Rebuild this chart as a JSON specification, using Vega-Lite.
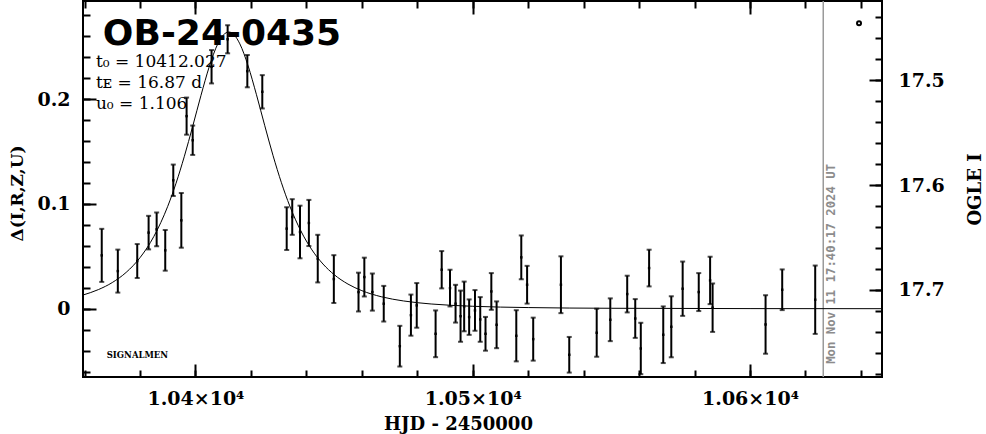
{
  "$schema": "https://vega.github.io/schema/vega-lite/v6.json",
  "width": 799,
  "height": 376,
  "autosize": "none",
  "padding": {"left": 83, "top": 1, "right": 104, "bottom": 57},
  "background": "white",
  "config": {
    "view": {"stroke": "black", "strokeWidth": 2},
    "axis": {
      "domain": false, "grid": false, "tickColor": "black", "tickWidth": 2,
      "labelFont": "DejaVu Serif", "labelFontSize": 19, "labelFontWeight": "bold", "labelColor": "black",
      "titleFont": "DejaVu Serif", "titleColor": "black", "titleFontWeight": "bold",
      "labelFlush": false, "labelOverlap": false, "labelBound": false
    }
  },
  "datasets": {
    "obs": [
      {"t": 10366.2, "d": 0.0509, "e": 0.0253},
      {"t": 10372.0, "d": 0.0359, "e": 0.0205},
      {"t": 10379.0, "d": 0.0455, "e": 0.0162},
      {"t": 10383.1, "d": 0.0726, "e": 0.0160},
      {"t": 10386.0, "d": 0.0757, "e": 0.0161},
      {"t": 10389.1, "d": 0.0557, "e": 0.0194},
      {"t": 10392.0, "d": 0.1225, "e": 0.0150},
      {"t": 10394.9, "d": 0.0843, "e": 0.0261},
      {"t": 10396.8, "d": 0.1837, "e": 0.0177},
      {"t": 10399.0, "d": 0.1607, "e": 0.0140},
      {"t": 10405.8, "d": 0.2308, "e": 0.0159},
      {"t": 10411.6, "d": 0.2570, "e": 0.0134},
      {"t": 10418.7, "d": 0.2266, "e": 0.0154},
      {"t": 10424.1, "d": 0.2069, "e": 0.0159},
      {"t": 10432.9, "d": 0.0764, "e": 0.0204},
      {"t": 10434.9, "d": 0.0875, "e": 0.0170},
      {"t": 10437.7, "d": 0.0732, "e": 0.0251},
      {"t": 10440.9, "d": 0.0818, "e": 0.0220},
      {"t": 10444.1, "d": 0.0478, "e": 0.0227},
      {"t": 10449.9, "d": 0.0283, "e": 0.0228},
      {"t": 10458.8, "d": 0.0159, "e": 0.0185},
      {"t": 10460.9, "d": 0.0302, "e": 0.0185},
      {"t": 10463.8, "d": 0.0159, "e": 0.0177},
      {"t": 10467.9, "d": 0.0048, "e": 0.0170},
      {"t": 10473.7, "d": -0.0357, "e": 0.0194},
      {"t": 10477.7, "d": -0.0061, "e": 0.0196},
      {"t": 10479.8, "d": 0.0032, "e": 0.0213},
      {"t": 10486.6, "d": -0.0239, "e": 0.0223},
      {"t": 10488.8, "d": 0.0372, "e": 0.0178},
      {"t": 10491.8, "d": 0.0197, "e": 0.0175},
      {"t": 10493.8, "d": 0.0048, "e": 0.0180},
      {"t": 10495.6, "d": -0.0071, "e": 0.0244},
      {"t": 10496.9, "d": 0.0022, "e": 0.0237},
      {"t": 10498.7, "d": -0.0080, "e": 0.0169},
      {"t": 10500.8, "d": -0.0016, "e": 0.0194},
      {"t": 10502.7, "d": -0.0102, "e": 0.0213},
      {"t": 10504.6, "d": -0.0239, "e": 0.0161},
      {"t": 10506.7, "d": 0.0165, "e": 0.0175},
      {"t": 10508.6, "d": -0.0153, "e": 0.0223},
      {"t": 10515.7, "d": -0.0258, "e": 0.0244},
      {"t": 10517.5, "d": 0.0490, "e": 0.0209},
      {"t": 10519.6, "d": 0.0229, "e": 0.0180},
      {"t": 10521.8, "d": -0.0290, "e": 0.0205},
      {"t": 10531.8, "d": 0.0229, "e": 0.0271},
      {"t": 10534.8, "d": -0.0439, "e": 0.0170},
      {"t": 10544.7, "d": -0.0229, "e": 0.0228},
      {"t": 10549.6, "d": -0.0105, "e": 0.0204},
      {"t": 10555.7, "d": 0.0140, "e": 0.0175},
      {"t": 10558.6, "d": -0.0093, "e": 0.0185},
      {"t": 10560.6, "d": -0.0379, "e": 0.0245},
      {"t": 10563.6, "d": 0.0388, "e": 0.0175},
      {"t": 10568.7, "d": -0.0248, "e": 0.0270},
      {"t": 10571.6, "d": -0.0172, "e": 0.0291},
      {"t": 10575.7, "d": 0.0191, "e": 0.0259},
      {"t": 10581.5, "d": 0.0159, "e": 0.0181},
      {"t": 10585.6, "d": 0.0270, "e": 0.0226},
      {"t": 10586.5, "d": 0.0010, "e": 0.0231},
      {"t": 10605.6, "d": -0.0150, "e": 0.0279},
      {"t": 10611.6, "d": 0.0181, "e": 0.0194},
      {"t": 10623.5, "d": 0.0086, "e": 0.0326}
    ],
    "model": [
      {"t": 10359.44, "m": 0.01309},
      {"t": 10365, "m": 0.01827},
      {"t": 10370, "m": 0.02499},
      {"t": 10375, "m": 0.03467},
      {"t": 10380, "m": 0.04871},
      {"t": 10385, "m": 0.06898},
      {"t": 10390, "m": 0.09770},
      {"t": 10393, "m": 0.11974},
      {"t": 10396, "m": 0.14543},
      {"t": 10399, "m": 0.17398},
      {"t": 10402, "m": 0.20357},
      {"t": 10405, "m": 0.23110},
      {"t": 10408, "m": 0.25234},
      {"t": 10410, "m": 0.26090},
      {"t": 10412.03, "m": 0.26392},
      {"t": 10414, "m": 0.26106},
      {"t": 10416, "m": 0.25264},
      {"t": 10419, "m": 0.23155},
      {"t": 10422, "m": 0.20410},
      {"t": 10425, "m": 0.17451},
      {"t": 10428, "m": 0.14592},
      {"t": 10431, "m": 0.12018},
      {"t": 10434, "m": 0.09806},
      {"t": 10438, "m": 0.07426},
      {"t": 10442, "m": 0.05616},
      {"t": 10446, "m": 0.04262},
      {"t": 10450, "m": 0.03256},
      {"t": 10455, "m": 0.02352},
      {"t": 10460, "m": 0.01725},
      {"t": 10467, "m": 0.01145},
      {"t": 10475, "m": 0.00743},
      {"t": 10485, "m": 0.00453},
      {"t": 10500, "m": 0.00235},
      {"t": 10520, "m": 0.00111},
      {"t": 10550, "m": 0.00044},
      {"t": 10600, "m": 0.00013},
      {"t": 10647.59, "m": 0.00006}
    ]
  },
  "layer": [
    {
      "data": {"values": [{"t": 10626.4}]},
      "mark": {"type": "rule", "color": "#9a9a9a", "strokeWidth": 1.5},
      "encoding": {
        "x": {"field": "t", "type": "quantitative", "scale": {"domain": [10359.44, 10647.59], "nice": false, "zero": false},
          "axis": {"orient": "top", "values": [10400, 10500, 10600], "labels": false, "tickSize": -13, "title": null}}
      }
    },
    {
      "data": {"name": "model"},
      "mark": {"type": "line", "color": "black", "strokeWidth": 1, "interpolate": "monotone"},
      "encoding": {
        "x": {"field": "t", "type": "quantitative", "scale": {"domain": [10359.44, 10647.59], "nice": false, "zero": false},
          "axis": {"orient": "bottom", "values": [10400, 10500, 10600], "tickSize": -13, "labelPadding": 25,
            "labelExpr": "format(datum.value/10000, '.2f') + '×10⁴'",
            "title": "HJD - 2450000", "titleFontSize": 18, "titleX": 375, "titleY": 52, "titleBaseline": "alphabetic", "titleAlign": "center"}},
        "y": {"field": "m", "type": "quantitative", "scale": {"domain": [-0.0651, 0.2935], "nice": false, "zero": false},
          "axis": {"orient": "left", "values": [0, 0.1, 0.2], "tickSize": -13, "labelPadding": 26,
            "labelExpr": "datum.value == 0 ? '0' : format(datum.value, '.1f')",
            "title": "Δ(I,R,Z,U)", "titleFontSize": 17, "titleAngle": 270, "titleX": -61, "titleY": 192, "titleBaseline": "alphabetic", "titleAlign": "center"}}
      }
    },
    {
      "data": {"name": "obs"},
      "mark": {"type": "errorbar", "thickness": 2, "color": "black", "ticks": {"size": 5}},
      "encoding": {
        "x": {"field": "t", "type": "quantitative", "scale": {"domain": [10359.44, 10647.59], "nice": false, "zero": false}, "axis": null},
        "y": {"field": "d", "type": "quantitative", "scale": {"domain": [-0.0651, 0.2935], "nice": false, "zero": false}, "axis": null},
        "yError": {"field": "e"}
      }
    },
    {
      "data": {"name": "obs"},
      "mark": {"type": "point", "shape": "square", "filled": true, "color": "black", "size": 6, "opacity": 1},
      "encoding": {
        "x": {"field": "t", "type": "quantitative", "scale": {"domain": [10359.44, 10647.59], "nice": false, "zero": false},
          "axis": {"orient": "bottom", "values": [10360, 10380, 10400, 10420, 10440, 10460, 10480, 10500, 10520, 10540, 10560, 10580, 10600, 10620, 10640], "labels": false, "tickSize": -7, "title": null}},
        "y": {"field": "d", "type": "quantitative", "scale": {"domain": [-0.0651, 0.2935], "nice": false, "zero": false},
          "axis": {"orient": "left", "values": [-0.06, -0.04, -0.02, 0, 0.02, 0.04, 0.06, 0.08, 0.1, 0.12, 0.14, 0.16, 0.18, 0.2, 0.22, 0.24, 0.26, 0.28], "labels": false, "tickSize": -7, "title": null}}
      }
    },
    {
      "data": {"values": [{"t": 10639.3, "d": 0.2722}]},
      "mark": {"type": "point", "shape": "circle", "filled": false, "color": "black", "strokeWidth": 2, "size": 16, "opacity": 1},
      "encoding": {
        "x": {"field": "t", "type": "quantitative", "scale": {"domain": [10359.44, 10647.59], "nice": false, "zero": false},
          "axis": {"orient": "top", "values": [10360, 10380, 10400, 10420, 10440, 10460, 10480, 10500, 10520, 10540, 10560, 10580, 10600, 10620, 10640], "labels": false, "tickSize": -7, "title": null}},
        "y": {"field": "d", "type": "quantitative", "scale": {"domain": [-0.0651, 0.2935], "nice": false, "zero": false},
          "axis": {"orient": "right", "values": [0.218, 0.118, 0.018], "tickSize": -13, "labelPadding": 29,
            "labelExpr": "format(17.718 - datum.value, '.1f')",
            "title": "OGLE I", "titleFontSize": 18, "titleAngle": 270, "titleX": 98, "titleY": 188, "titleBaseline": "alphabetic", "titleAlign": "center"}}
      }
    },
    {
      "data": {"values": [{"t": 10368.0, "d": -0.0468, "label": "SIGNALMEN"}]},
      "mark": {"type": "text", "font": "DejaVu Serif", "fontSize": 8.5, "fontWeight": "bold", "align": "left", "baseline": "alphabetic", "color": "black"},
      "encoding": {
        "x": {"field": "t", "type": "quantitative", "scale": {"domain": [10359.44, 10647.59], "nice": false, "zero": false}, "axis": null},
        "y": {"field": "d", "type": "quantitative", "scale": {"domain": [-0.0651, 0.2935], "nice": false, "zero": false},
          "axis": {"orient": "right", "values": [0.278, 0.258, 0.238, 0.218, 0.198, 0.178, 0.158, 0.138, 0.118, 0.098, 0.078, 0.058, 0.038, 0.018, -0.002, -0.022, -0.042, -0.062], "labels": false, "tickSize": -7, "title": null}},
        "text": {"field": "label"}
      }
    },
    {
      "data": {"values": [{"t": 10366.6, "d": 0.2515, "label": "OB-24-0435"}]},
      "mark": {"type": "text", "font": "DejaVu Sans", "fontSize": 36, "fontWeight": "bold", "align": "left", "baseline": "alphabetic", "color": "black"},
      "encoding": {
        "x": {"field": "t", "type": "quantitative", "scale": {"domain": [10359.44, 10647.59], "nice": false, "zero": false}, "axis": null},
        "y": {"field": "d", "type": "quantitative", "scale": {"domain": [-0.0651, 0.2935], "nice": false, "zero": false}, "axis": null},
        "text": {"field": "label"}
      }
    },
    {
      "data": {"values": [
        {"t": 10364.1, "d": 0.2305, "label": "t₀ = 10412.027"},
        {"t": 10364.1, "d": 0.2104, "label": "tᴇ = 16.87 d"},
        {"t": 10364.1, "d": 0.1904, "label": "u₀ = 1.106"}
      ]},
      "mark": {"type": "text", "font": "DejaVu Serif", "fontSize": 17, "align": "left", "baseline": "alphabetic", "color": "black"},
      "encoding": {
        "x": {"field": "t", "type": "quantitative", "scale": {"domain": [10359.44, 10647.59], "nice": false, "zero": false}, "axis": null},
        "y": {"field": "d", "type": "quantitative", "scale": {"domain": [-0.0651, 0.2935], "nice": false, "zero": false}, "axis": null},
        "text": {"field": "label"}
      }
    },
    {
      "data": {"values": [{"t": 10630.6, "d": -0.0525, "label": "Mon Nov 11 17:40:17 2024 UT"}]},
      "mark": {"type": "text", "font": "DejaVu Sans Mono", "fontSize": 12.3, "fontWeight": "bold", "angle": 270, "align": "left", "baseline": "alphabetic", "color": "#8c8c8c"},
      "encoding": {
        "x": {"field": "t", "type": "quantitative", "scale": {"domain": [10359.44, 10647.59], "nice": false, "zero": false}, "axis": null},
        "y": {"field": "d", "type": "quantitative", "scale": {"domain": [-0.0651, 0.2935], "nice": false, "zero": false}, "axis": null},
        "text": {"field": "label"}
      }
    }
  ],
  "resolve": {"axis": {"x": "independent", "y": "independent"}}
}
